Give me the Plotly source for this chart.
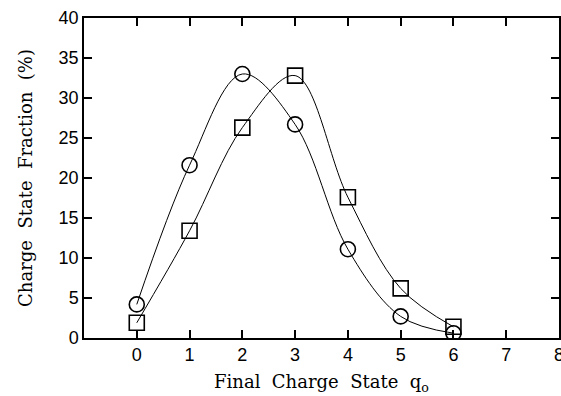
import plotly.graph_objects as go

charge_states = [0, 1, 2, 3, 4, 5, 6]
circle_fraction = [4.2, 21.6, 33.0, 26.7, 11.1, 2.7, 0.6]
square_fraction = [1.9, 13.4, 26.3, 32.8, 17.6, 6.2, 1.4]
x_ticks = [0, 1, 2, 3, 4, 5, 6, 7, 8]
y_ticks = [0, 5, 10, 15, 20, 25, 30, 35, 40]

fig = go.Figure()
for ys in (circle_fraction, square_fraction):
    fig.add_trace(go.Scatter(x=charge_states, y=ys, mode="lines",
                             line=dict(shape="spline", smoothing=1.0, color="black", width=1),
                             showlegend=False, hoverinfo="skip"))
fig.add_trace(go.Scatter(x=charge_states, y=circle_fraction, mode="markers",
                         marker=dict(symbol="circle-open", size=15, color="black", line=dict(width=1.6)),
                         showlegend=False))
fig.add_trace(go.Scatter(x=charge_states, y=square_fraction, mode="markers",
                         marker=dict(symbol="square-open", size=15, color="black", line=dict(width=1.6)),
                         showlegend=False))

axis_common = dict(showline=True, linecolor="black", linewidth=1.5, mirror="ticks",
                   ticks="inside", ticklen=8, tickwidth=1.5, tickcolor="black",
                   showgrid=False, zeroline=False, ticklabeloverflow="allow", automargin=False,
                   tickfont=dict(family="Liberation Sans, Arial", size=18, color="black"))

title_font = dict(family="DejaVu Serif", size=18, color="black")

fig.update_xaxes(range=[-1, 8], tickvals=x_ticks,
                 title=dict(text="Final  Charge  State  q<sub>o</sub>", font=title_font, standoff=11),
                 **axis_common)
fig.update_yaxes(range=[0, 40], tickvals=y_ticks,
                 title=dict(text="Charge  State  Fraction  (%)", font=title_font, standoff=21),
                 **axis_common)

fig.update_layout(width=561, height=396, margin=dict(l=84, r=2, t=18, b=58, autoexpand=False),
                  plot_bgcolor="white", paper_bgcolor="white")
fig.write_html("out.html")
